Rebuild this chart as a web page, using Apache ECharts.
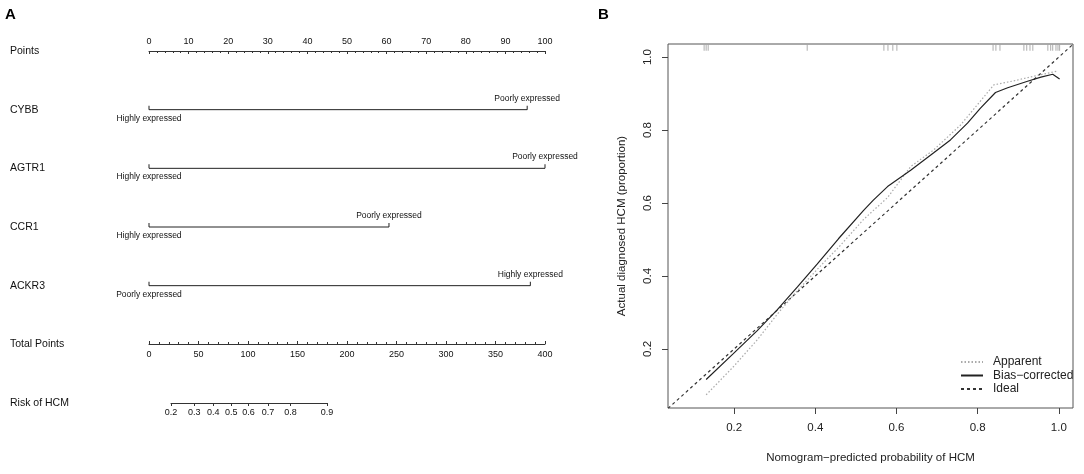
<!DOCTYPE html>
<html>
<head>
<meta charset="utf-8">
<script src="https://cdn.jsdelivr.net/npm/echarts@6/dist/echarts.min.js"></script>
<style>
    html, body { margin: 0; padding: 0; background: #fff; }
    #main { width: 1084px; height: 474px; }
</style>
</head>
<body>
<div id="main"></div>
<script>
    // panel A - nomogram
    var rowNames = ['Points', 'CYBB', 'AGTR1', 'CCR1', 'ACKR3', 'Total Points', 'Risk of HCM'];
    var varNames = ['CYBB', 'AGTR1', 'CCR1', 'ACKR3'];
    var varMaxPoints = [95.5, 100, 60.6, 96.3];
    var varLowLabels = ['Highly expressed', 'Highly expressed', 'Highly expressed', 'Poorly expressed'];
    var varHighLabels = ['Poorly expressed', 'Poorly expressed', 'Poorly expressed', 'Highly expressed'];
    var riskTicks = ['0.2', '0.3', '0.4', '0.5', '0.6', '0.7', '0.8', '0.9'];
    var riskTotalPoints = [22.2, 45.7, 65, 83, 100.5, 120.3, 143, 179.8];

    // panel B - calibration
    var biasX = [0.131, 0.198, 0.257, 0.306, 0.356, 0.405, 0.457, 0.519, 0.543, 0.578, 0.635, 0.691, 0.733, 0.775, 0.807, 0.844, 0.874, 0.923, 0.956, 0.985, 1.002];
    var biasY = [0.116, 0.187, 0.25, 0.307, 0.37, 0.433, 0.502, 0.58, 0.608, 0.645, 0.69, 0.737, 0.773, 0.819, 0.86, 0.903, 0.916, 0.934, 0.945, 0.953, 0.94];
    var apparentX = [0.131, 0.198, 0.257, 0.306, 0.356, 0.42, 0.457, 0.519, 0.578, 0.635, 0.691, 0.758, 0.84, 0.889, 0.956, 0.998];
    var apparentY = [0.074, 0.151, 0.225, 0.295, 0.36, 0.436, 0.478, 0.555, 0.615, 0.7, 0.745, 0.814, 0.924, 0.935, 0.952, 0.962];
    var rugX = [0.126, 0.131, 0.136, 0.38, 0.569, 0.579, 0.591, 0.601, 0.838, 0.845, 0.855, 0.914, 0.921, 0.929, 0.936, 0.973, 0.98, 0.985, 0.993, 0.998, 1.002];
    var calTicks = [0.2, 0.4, 0.6, 0.8, 1.0];

    var font = 'Liberation Sans, Arial, Helvetica, sans-serif';

    function zip(xs, ys) {
        var out = [];
        for (var i = 0; i < xs.length; i++) out.push([xs[i], ys[i]]);
        return out;
    }

    var series = [];
    for (var i = 0; i < varNames.length; i++) {
        series.push({
            type: 'line',
            xAxisIndex: 0,
            yAxisIndex: 0,
            silent: true,
            symbol: 'rect',
            symbolSize: [1, 4],
            symbolOffset: [0, -2],
            lineStyle: {color: '#222', width: 1},
            itemStyle: {color: '#222'},
            data: [
                {value: [0, varNames[i]], label: {show: true, position: 'bottom', distance: 4, formatter: varLowLabels[i]}},
                {value: [varMaxPoints[i], varNames[i]], label: {show: true, position: 'top', distance: 3, formatter: varHighLabels[i]}}
            ],
            label: {fontSize: 8.5, color: '#111', fontFamily: font}
        });
    }

    series.push({
        name: 'Ideal',
        type: 'line',
        xAxisIndex: 3,
        yAxisIndex: 3,
        symbol: 'none',
        lineStyle: {color: '#333', width: 1.2, type: [3, 3]},
        itemStyle: {color: '#333'},
        data: [[0.037, 0.037], [1.035, 1.035]]
    });
    series.push({
        name: 'Apparent',
        type: 'line',
        xAxisIndex: 3,
        yAxisIndex: 3,
        symbol: 'none',
        lineStyle: {color: '#aaa', width: 1.2, type: [1.5, 2]},
        itemStyle: {color: '#aaa'},
        data: zip(apparentX, apparentY)
    });
    series.push({
        name: 'Bias\u2212corrected',
        type: 'line',
        xAxisIndex: 3,
        yAxisIndex: 3,
        symbol: 'none',
        lineStyle: {color: '#222', width: 1.2},
        itemStyle: {color: '#222'},
        data: zip(biasX, biasY)
    });
    series.push({
        type: 'scatter',
        xAxisIndex: 3,
        yAxisIndex: 3,
        silent: true,
        symbol: 'rect',
        symbolSize: [1, 6],
        itemStyle: {color: '#999'},
        data: rugX.map(function (x) { return [x, 1.026]; })
    });

    var chart = echarts.init(document.getElementById('main'));
    var option = {
        animation: false,
        backgroundColor: '#fff',
        textStyle: {fontFamily: font},
        graphic: [
            {type: 'text', left: 5, top: 7, style: {text: 'A', font: 'bold 15px ' + font, fill: '#000'}},
            {type: 'text', left: 598, top: 7, style: {text: 'B', font: 'bold 15px ' + font, fill: '#000'}}
        ],
        legend: {
            data: ['Apparent', 'Bias\u2212corrected', 'Ideal'],
            orient: 'vertical',
            left: 955,
            top: 351,
            itemWidth: 22,
            itemHeight: 10,
            itemGap: 1.5,
            itemStyle: {opacity: 0},
            textStyle: {fontSize: 12, color: '#222', padding: [0, 0, 0, 5]}
        },
        grid: [
            {left: 149, width: 396, top: 51, height: 352},
            {left: 149, width: 396, top: 343, height: 1},
            {left: 171, width: 156, top: 402, height: 1},
            {left: 668, right: 11, top: 44, bottom: 66, show: true, borderColor: '#555', borderWidth: 1}
        ],
        xAxis: [
            {
                gridIndex: 0, type: 'value', position: 'top', min: 0, max: 100, interval: 10,
                axisLine: {show: true, lineStyle: {color: '#333'}},
                axisTick: {show: true, inside: true, length: 3, lineStyle: {color: '#333'}},
                minorTick: {show: true, splitNumber: 5, length: 2, lineStyle: {color: '#333'}},
                splitLine: {show: false},
                axisLabel: {fontSize: 9, color: '#111', margin: 5}
            },
            {
                gridIndex: 1, type: 'value', position: 'bottom', min: 0, max: 400, interval: 50,
                axisLine: {show: true, lineStyle: {color: '#333'}},
                axisTick: {show: true, inside: true, length: 3, lineStyle: {color: '#333'}},
                minorTick: {show: true, splitNumber: 5, length: 2, lineStyle: {color: '#333'}},
                splitLine: {show: false},
                axisLabel: {fontSize: 9, color: '#111', margin: 6}
            },
            {
                gridIndex: 2, type: 'value', position: 'bottom', min: riskTotalPoints[0], max: riskTotalPoints[riskTotalPoints.length - 1],
                axisLine: {show: true, lineStyle: {color: '#333'}},
                axisTick: {show: true, length: 3, customValues: riskTotalPoints, lineStyle: {color: '#333'}},
                splitLine: {show: false},
                axisLabel: {
                    fontSize: 9, color: '#111', margin: 5,
                    customValues: riskTotalPoints,
                    formatter: function (v) {
                        var k = riskTotalPoints.indexOf(v);
                        return k >= 0 ? riskTicks[k] : '';
                    }
                }
            },
            {
                gridIndex: 3, type: 'value', min: 0.037, max: 1.035,
                name: 'Nomogram\u2212predicted probability of HCM',
                nameLocation: 'middle', nameGap: 44,
                nameTextStyle: {fontSize: 11.5, color: '#222'},
                axisLine: {show: false},
                axisTick: {show: true, length: 6, customValues: calTicks, lineStyle: {color: '#444'}},
                splitLine: {show: false},
                axisLabel: {
                    fontSize: 11.5, color: '#222', margin: 14, customValues: calTicks,
                    formatter: function (v) { return v.toFixed(1); }
                }
            }
        ],
        yAxis: [
            {
                gridIndex: 0, type: 'category', inverse: true, boundaryGap: false, data: rowNames,
                axisLine: {show: false}, axisTick: {show: false},
                axisLabel: {align: 'left', margin: 139, fontSize: 10.5, color: '#111'}
            },
            {gridIndex: 1, type: 'value', show: false},
            {gridIndex: 2, type: 'value', show: false},
            {
                gridIndex: 3, type: 'value', min: 0.038, max: 1.036,
                name: 'Actual diagnosed HCM (proportion)',
                nameLocation: 'middle', nameGap: 40,
                nameTextStyle: {fontSize: 11.5, color: '#222'},
                axisLine: {show: false},
                axisTick: {show: true, length: 6, customValues: calTicks, lineStyle: {color: '#444'}},
                splitLine: {show: false},
                axisLabel: {
                    fontSize: 11.5, color: '#222', margin: 14, rotate: 90, customValues: calTicks,
                    formatter: function (v) { return v.toFixed(1); }
                }
            }
        ],
        series: series
    };
    chart.setOption(option);
</script>
</body>
</html>
